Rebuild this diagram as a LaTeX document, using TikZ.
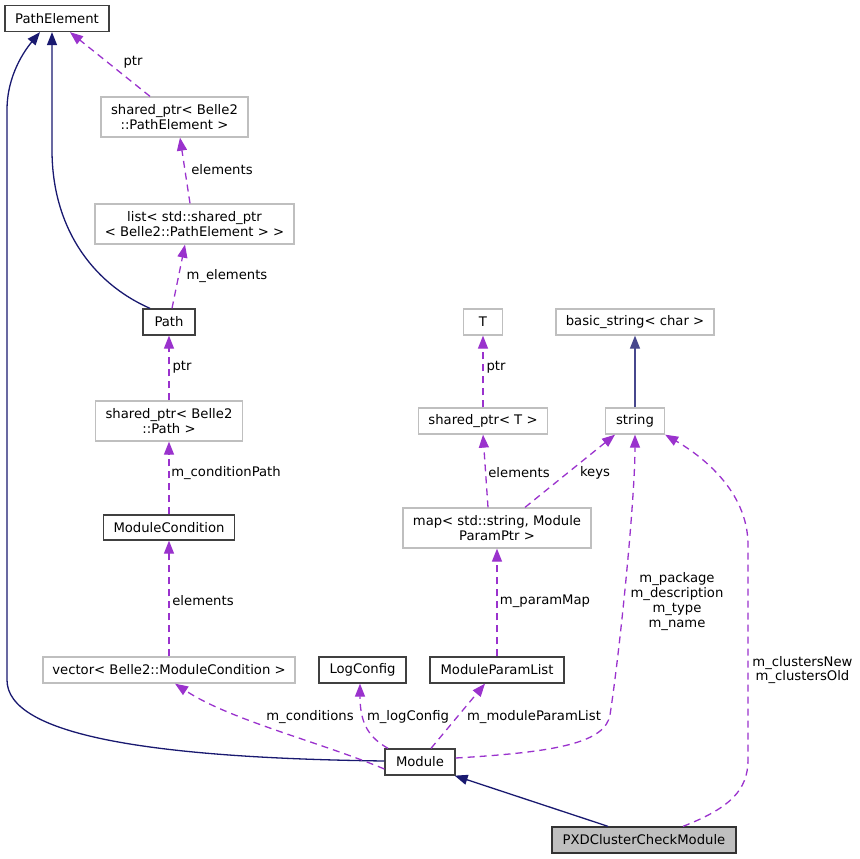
\documentclass[tikz,border=0pt]{standalone}
\usepackage{fontspec}
\setmainfont{DejaVu Sans}
\usetikzlibrary{arrows.meta}
\definecolor{navy}{HTML}{191970}
\definecolor{orch}{HTML}{9A32CD}
\definecolor{grayb}{HTML}{BFBFBF}
\definecolor{darkb}{HTML}{404040}
\begin{document}
\begin{tikzpicture}[x=1pt,y=-1pt,
  every node/.style={font=\fontsize{13.2}{14.8}\selectfont, inner sep=0pt},
  cls/.style={draw=darkb, line width=1.3pt, fill=white, align=center},
  ext/.style={draw=grayb, line width=1.3pt, fill=white, align=center},
  mainbox/.style={draw=black!80, line width=1.3pt, fill=grayb, align=center},
  inh/.style={draw=navy, line width=1.3pt, -{Triangle[length=13pt,width=10pt]}},
  use/.style={draw=orch, line width=1.3pt, dash pattern=on 7pt off 5pt, -{Triangle[length=13pt,width=10pt]}},
  lbl/.style={align=center, fill=none}
]
\useasboundingbox (0,0) rectangle (860,859);
% nodes
\node[cls, minimum width=104, minimum height=26] (pe) at (57,18.5) {PathElement};
\node[ext, minimum width=147, minimum height=40] (spe) at (174.5,117) {shared\_ptr< Belle2\\::PathElement >};
\node[ext, minimum width=199, minimum height=40] (lst) at (194.5,224) {list< std::shared\_ptr\\< Belle2::PathElement > >};
\node[cls, minimum width=52, minimum height=26] (path) at (169,322) {Path};
\node[ext, minimum width=147, minimum height=40] (sp) at (169,421) {shared\_ptr< Belle2\\::Path >};
\node[cls, minimum width=131, minimum height=25] (mc) at (169,527.5) {ModuleCondition};
\node[ext, minimum width=252, minimum height=26] (vec) at (169,670) {vector< Belle2::ModuleCondition >};
\node[cls, minimum width=87, minimum height=26] (lc) at (362.5,670) {LogConfig};
\node[cls, minimum width=134, minimum height=26] (mpl) at (497,670) {ModuleParamList};
\node[cls, minimum width=70, minimum height=26] (mod) at (420,762) {Module};
\node[mainbox, minimum width=184, minimum height=26] (pxd) at (644,840) {PXDClusterCheckModule};
\node[ext, minimum width=39, minimum height=26] (T) at (483,322) {T};
\node[ext, minimum width=158, minimum height=26] (bs) at (635,322) {basic\_string< char >};
\node[ext, minimum width=59, minimum height=26] (str) at (635,421) {string};
\node[ext, minimum width=129, minimum height=26] (spt) at (483,421) {shared\_ptr< T >};
\node[ext, minimum width=188, minimum height=40] (map) at (497,528) {map< std::string, Module\\ParamPtr >};
% inheritance
\draw[inh] ([yshift=1]mod.west) .. controls (150,758) and (7,735) .. (7,680) -- (7,110) .. controls (7,75) and (25,50) .. ([xshift=-17]pe.south);
\draw[inh] ([xshift=-19]path.north) .. controls (90,282) and (52,225) .. (52,150) -- ([xshift=-5]pe.south);
\draw[inh] ([xshift=-36]pxd.north) -- ([xshift=-1]mod.south east);
\draw[inh, draw=navy!80] (str.north) -- (str.north |- bs.south);
% usage
\draw[use] ([xshift=-24.5]spe.north) -- ([xshift=13]pe.south);
\draw[use] ([xshift=-4.5]lst.north) -- ([xshift=5.5]spe.south);
\draw[use] ([xshift=3]path.north) -- ([xshift=-9.5]lst.south);
\draw[use] (sp.north) -- (sp.north |- path.south);
\draw[use] (mc.north) -- (mc.north |- sp.south);
\draw[use] (vec.north) -- (vec.north |- mc.south);
\draw[use] ([yshift=-7]mod.west) .. controls (320,742) and (230,720) .. ([xshift=6]vec.south);
\draw[use] ([xshift=-32]mod.north) .. controls (370,738) and (360,725) .. ([xshift=-2.5]lc.south);
\draw[use] ([xshift=11]mod.north) -- ([xshift=-12]mpl.south);
\draw[use] ([yshift=4]mod.east) .. controls (560,752) and (605,742) .. (610,715) .. controls (620,650) and (635,500) .. (str.south);
\draw[use] ([xshift=39]pxd.north) .. controls (730,808) and (748,790) .. (748,760) -- (748,545) .. controls (748,490) and (700,455) .. (str.south east);
\draw[use] (spt.north) -- (spt.north |- T.south);
\draw[use] ([xshift=-9]map.north) -- (spt.south);
\draw[use] ([xshift=28]map.north) -- ([xshift=-20]str.south);
\draw[use] (mpl.north) -- (mpl.north |- map.south);
% labels
\node[lbl] (l1) at (133,62) {ptr};
\node[lbl] (l2) at (222,170) {elements};
\node[lbl] (l3) at (227,276) {m\_elements};
\node[lbl] (l4) at (182,367) {ptr};
\node[lbl] (l5) at (226,473) {m\_conditionPath};
\node[lbl] (l6) at (203,601) {elements};
\node[lbl] (l7) at (310,717) {m\_conditions};
\node[lbl] (l8) at (408,717) {m\_logConfig};
\node[lbl] (l9) at (534,717) {m\_moduleParamList};
\node[lbl] (l10) at (496,367) {ptr};
\node[lbl] (l11) at (519,473) {elements};
\node[lbl] (l12) at (595,473) {keys};
\node[lbl] (l13) at (545,601) {m\_paramMap};
\node[lbl] (l14) at (677,601.5) {m\_package\\m\_description\\m\_type\\m\_name};
\node[lbl] (l15) at (802.5,670) {m\_clustersNew\\m\_clustersOld};
\end{tikzpicture}
\end{document}
